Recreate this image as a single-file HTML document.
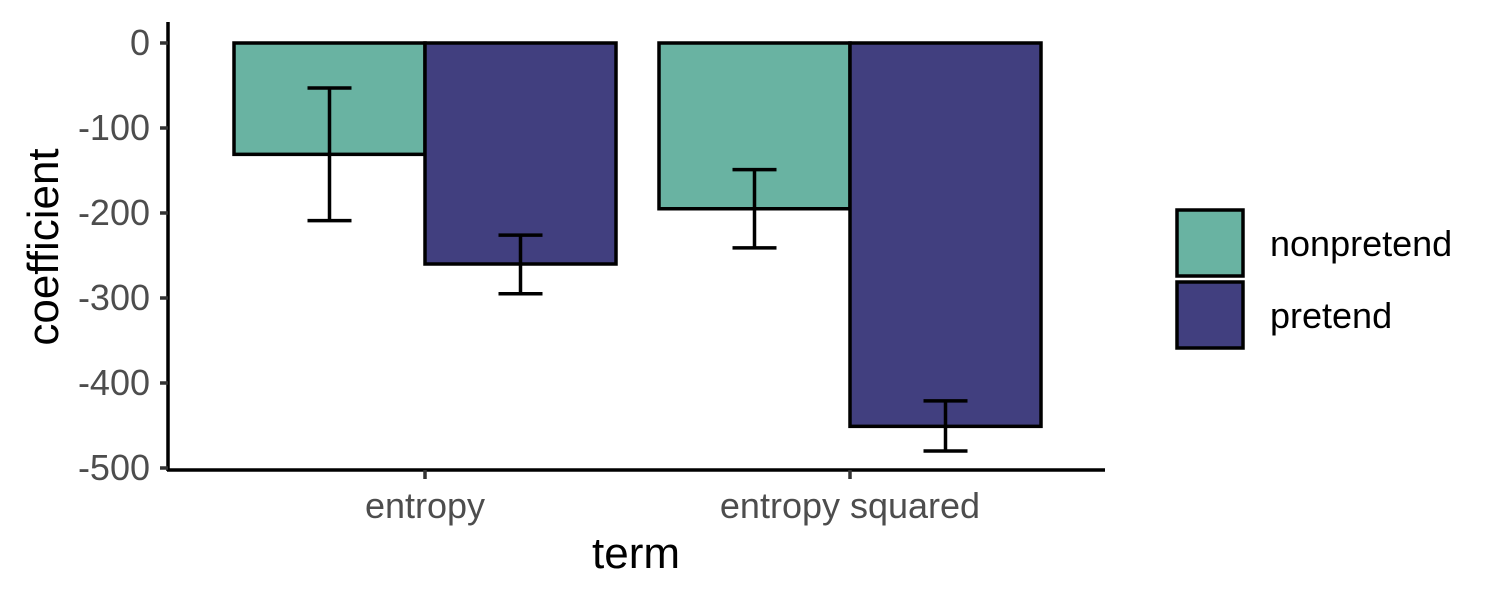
<!DOCTYPE html>
<html><head><meta charset="utf-8"><style>
html,body{margin:0;padding:0;background:#fff;}
svg{display:block;font-family:"Liberation Sans",Arial,sans-serif;}
</style></head><body>
<svg id="chart" width="1500" height="600" xmlns="http://www.w3.org/2000/svg">
<g id="plot"></g>
</svg>
<script>
const categories = ["entropy", "entropy squared"];
const groups = ["nonpretend", "pretend"];
const estimates = [[-131, -260], [-195, -451]];
const lowerBounds = [[-209, -295], [-241, -480]];
const upperBounds = [[-53, -226], [-149, -421]];
const yTicks = [0, -100, -200, -300, -400, -500];
const colors = ["#69b3a2", "#413f7f"];

const NS = "http://www.w3.org/2000/svg";
const g = document.getElementById("plot");
function y(v){ return 43 + (-v) * 0.85; }
function xc(i){ return 425 + i * 425; }
const barW = 191;
function mk(tag, attrs, parent){
  const e = document.createElementNS(NS, tag);
  for (const k in attrs) e.setAttribute(k, attrs[k]);
  (parent || g).appendChild(e);
  return e;
}

categories.forEach((c, i) => {
  groups.forEach((gr, j) => {
    const x0 = xc(i) - barW + j * barW;
    const v = estimates[i][j];
    const r = mk("rect", {x: x0, y: y(0), width: barW, height: y(v) - y(0), fill: colors[j], stroke: "#000", "stroke-width": 3.5});
    
    
  });
});
categories.forEach((c, i) => {
  groups.forEach((gr, j) => {
    const cx = xc(i) - barW / 2 + j * barW;
    const eg = mk("g", {stroke: "#000", "stroke-width": 3.5, fill: "none"});
    
    
    mk("line", {x1: cx, x2: cx, y1: y(upperBounds[i][j]), y2: y(lowerBounds[i][j])}, eg);
    mk("line", {x1: cx - 22, x2: cx + 22, y1: y(upperBounds[i][j]), y2: y(upperBounds[i][j])}, eg);
    mk("line", {x1: cx - 22, x2: cx + 22, y1: y(lowerBounds[i][j]), y2: y(lowerBounds[i][j])}, eg);
  });
});
const ya = mk("line", {x1: 168, x2: 168, y1: 22, y2: 471, stroke: "#000", "stroke-width": 3.5});


const xa = mk("line", {x1: 167, x2: 1105, y1: 470, y2: 470, stroke: "#000", "stroke-width": 3.5});


yTicks.forEach(t => {
  mk("line", {x1: 160, x2: 168, y1: y(t), y2: y(t), stroke: "#333", "stroke-width": 3.5});
  const tx = mk("text", {x: 150, y: y(t) + 12, "text-anchor": "end", "font-size": 36, fill: "#4d4d4d"});
  tx.textContent = t;
  
  
});
categories.forEach((c, i) => {
  mk("line", {x1: xc(i), x2: xc(i), y1: 470, y2: 479, stroke: "#333", "stroke-width": 3.5});
  const tx = mk("text", {x: xc(i), y: 518, "text-anchor": "middle", "font-size": 36, fill: "#4d4d4d"});
  tx.textContent = c;
  
  
});
const xt = mk("text", {x: 636, y: 568, "text-anchor": "middle", "font-size": 44, fill: "#000"});
xt.textContent = "term";


const yt = mk("text", {x: 58, y: 247, "text-anchor": "middle", "font-size": 44, fill: "#000", transform: "rotate(-90 58 247)"});
yt.textContent = "coefficient";


groups.forEach((gr, j) => {
  const lg = mk("g", {});
  
  
  mk("rect", {x: 1177, y: 210 + j * 72, width: 66, height: 66, fill: colors[j], stroke: "#000", "stroke-width": 3.5}, lg);
  const t = mk("text", {x: 1270, y: 256 + j * 72, "font-size": 36, fill: "#000"}, lg);
  t.textContent = gr;
});
</script>
</body></html>
